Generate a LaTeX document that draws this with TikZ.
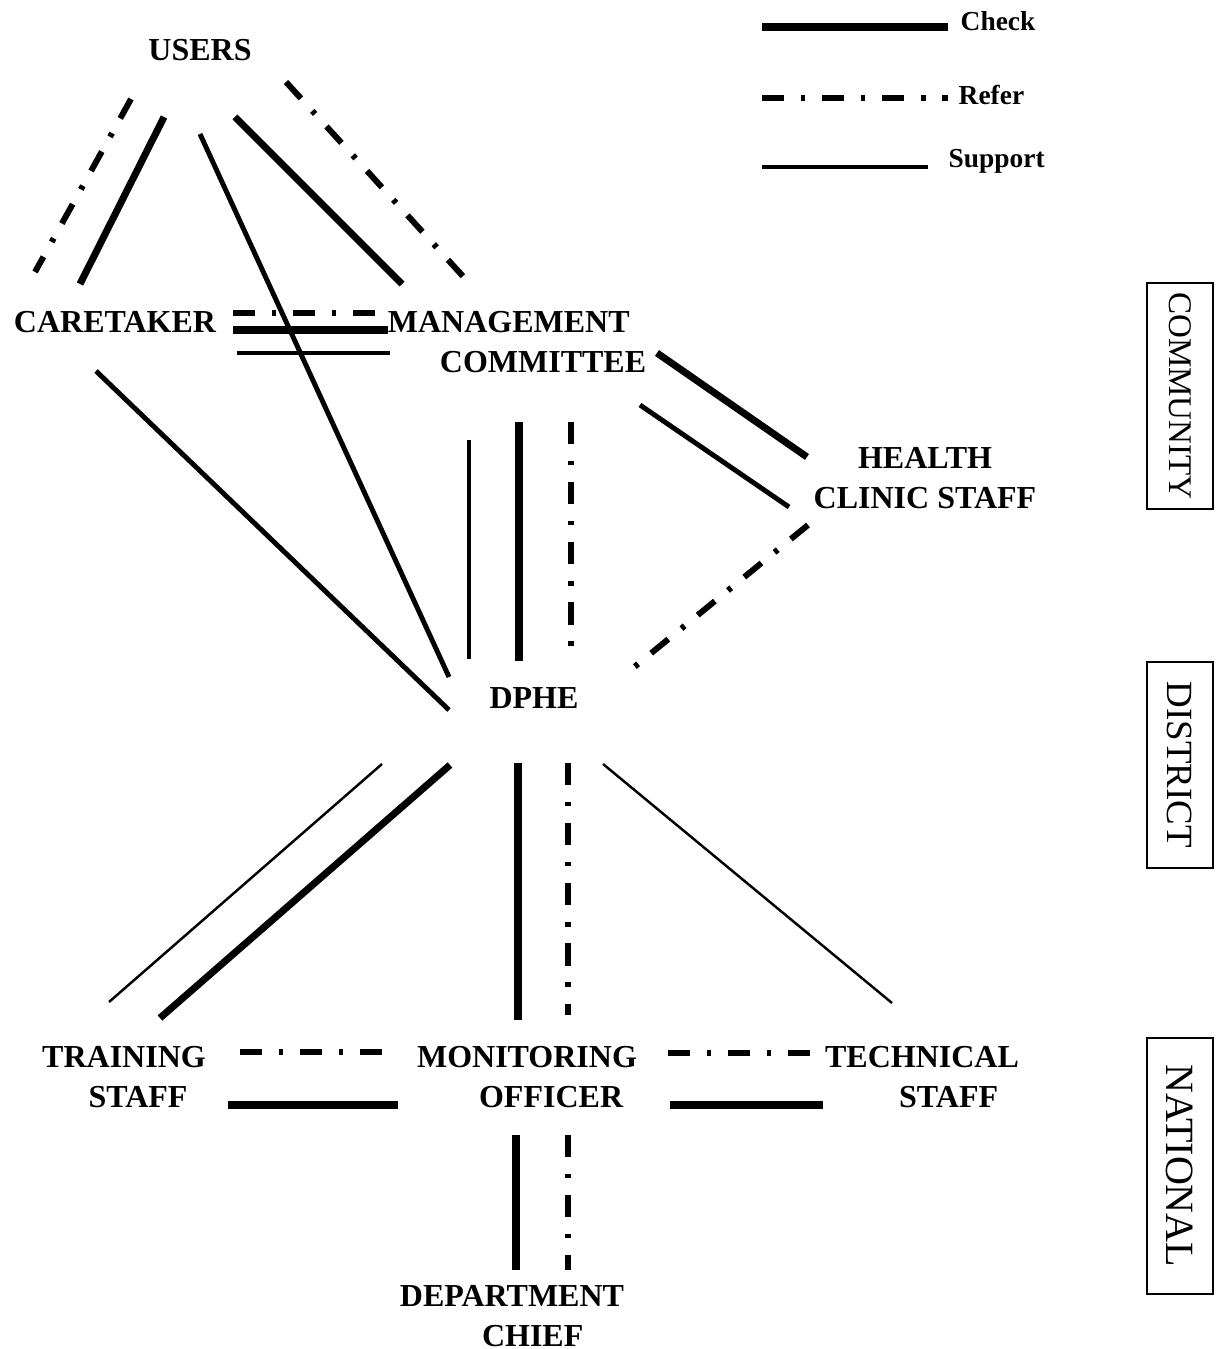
\documentclass[tikz,border=0pt]{standalone}
\usepackage{fontspec}
\setmainfont{Liberation Serif}
\usepackage{tikz}

\begin{document}
\begin{tikzpicture}%
                    [x=0.01cm, y=-0.01cm,
                    actor/.style={font=\bfseries\fontsize{9.1}{11.4}\selectfont, inner sep=0pt},
                    key/.style={font=\bfseries\fontsize{7.8}{9}\selectfont, inner sep=0pt, anchor=west},
                    level/.style={draw, line width=0.6pt, rotate=-90, inner sep=0pt,
                                  font=\fontsize{10.5}{12}\selectfont, minimum height=0.66cm},
                    check/.style={line width=2pt},
                    refer/.style={line width=1.7pt, dash pattern=on 6.3pt off 4.8pt on 1.2pt off 4.8pt},
                    support/.style={line width=1.4pt},
                    supportthin/.style={line width=0.7pt}]
                \useasboundingbox (0,0) rectangle (1217,1349);
                %% Actors
                \node[actor] (users) at (200,50) {USERS};
                \node[actor] (care) at (115,322) {CARETAKER};
                \node[actor, align=left] (mgmt) at (517,342) {MANAGEMENT\\\hspace*{0.52cm}COMMITTEE};
                \node[actor, align=center] (health) at (925,478) {HEALTH\\CLINIC STAFF};
                \node[actor] (dphe) at (534,698) {DPHE};
                \node[actor, align=center] (train) at (124,1077) {TRAINING\\\hspace*{0.28cm}STAFF};
                \node[actor, align=left] (monitor) at (527,1077) {MONITORING\\\hspace*{0.62cm}OFFICER};
                \node[actor, align=left] (tech) at (922,1077) {TECHNICAL\\\hspace*{0.74cm}STAFF};
                \node[actor, align=left] (chief) at (512,1316) {DEPARTMENT\\\hspace*{0.82cm}CHIEF};
                %%
                %% Levels
                \node[level, minimum width=2.26cm, font=\fontsize{9.4}{11}\selectfont] (community) at (1180,396) {COMMUNITY};
                \node[level, minimum width=2.06cm] (district) at (1180,765) {DISTRICT};
                \node[level, minimum width=2.56cm, font=\fontsize{11.4}{13}\selectfont] (national) at (1180,1166) {NATIONAL};
                %%
                %% Legend
                \coordinate (key-c1) at (762,27);  \coordinate (key-c2) at (948,27);
                \coordinate (key-r1) at (762,98);  \coordinate (key-r2) at (948,98);
                \coordinate (key-s1) at (762,167); \coordinate (key-s2) at (928,167);
                \node[key] (key-check) at (960,21) {Check};
                \node[key] (key-refer) at (958,95) {Refer};
                \node[key] (key-support) at (948,161) {Support};
                \draw[check] (key-c1) -- (key-c2);
                \draw[refer] (key-r1) -- (key-r2);
                \draw[support] (key-s1) -- (key-s2);
                %%
                %% End points of the links
                \coordinate (u-r1) at (131,99);   \coordinate (c-r1) at (35,272);
                \coordinate (u-c1) at (164,117);  \coordinate (c-c1) at (80,284);
                \coordinate (u-s1) at (200,134);  \coordinate (d-s1) at (449,677);
                \coordinate (u-c2) at (235,117);  \coordinate (m-c1) at (402,284);
                \coordinate (u-r2) at (286,82);   \coordinate (m-r1) at (470,284);
                \coordinate (c-r2) at (233,313);  \coordinate (m-r2) at (388,313);
                \coordinate (c-c2) at (233,330);  \coordinate (m-c2) at (388,330);
                \coordinate (c-s2) at (237,353);  \coordinate (m-s2) at (390,353);
                \coordinate (c-s3) at (96,371);   \coordinate (d-s3) at (449,710);
                \coordinate (m-s4) at (469,440);  \coordinate (d-s4) at (469,659);
                \coordinate (m-c4) at (519,422);  \coordinate (d-c4) at (519,661);
                \coordinate (m-r4) at (571,422);  \coordinate (d-r4) at (571,661);
                \coordinate (m-c5) at (657,353);  \coordinate (h-c5) at (807,457);
                \coordinate (m-s5) at (640,405);  \coordinate (h-s5) at (789,507);
                \coordinate (h-r6) at (808,525);  \coordinate (d-r6) at (622,677);
                \coordinate (d-s7) at (382,764);  \coordinate (t-s7) at (109,1002);
                \coordinate (d-c7) at (450,765);  \coordinate (t-c7) at (160,1018);
                \coordinate (d-c8) at (518,763);  \coordinate (o-c8) at (518,1020);
                \coordinate (d-r8) at (568,763);  \coordinate (o-r8) at (568,1015);
                \coordinate (d-s9) at (603,764);  \coordinate (e-s9) at (892,1003);
                \coordinate (t-r10) at (240,1052); \coordinate (o-r10) at (398,1052);
                \coordinate (t-c10) at (228,1105); \coordinate (o-c10) at (398,1105);
                \coordinate (o-r11) at (668,1053); \coordinate (e-r11) at (810,1053);
                \coordinate (o-c11) at (670,1105); \coordinate (e-c11) at (823,1105);
                \coordinate (o-c12) at (516,1135); \coordinate (k-c12) at (516,1270);
                \coordinate (o-r12) at (568,1135); \coordinate (k-r12) at (568,1270);
                %%
                %% Community links
                \draw[refer] (u-r1) -- (c-r1);
                \draw[check] (u-c1) -- (c-c1);
                \draw[support] (u-s1) -- (d-s1);
                \draw[check] (u-c2) -- (m-c1);
                \draw[refer] (u-r2) -- (m-r1);
                \draw[refer] (c-r2) -- (m-r2);
                \draw[check] (c-c2) -- (m-c2);
                \draw[support] (c-s2) -- (m-s2);
                \draw[check] (m-c5) -- (h-c5);
                \draw[support] (m-s5) -- (h-s5);
                %% Links to DPHE
                \draw[support] (c-s3) -- (d-s3);
                \draw[support] (m-s4) -- (d-s4);
                \draw[check] (m-c4) -- (d-c4);
                \draw[refer] (m-r4) -- (d-r4);
                \draw[refer] (h-r6) -- (d-r6);
                \draw[supportthin] (d-s7) -- (t-s7);
                \draw[check] (d-c7) -- (t-c7);
                \draw[check] (d-c8) -- (o-c8);
                \draw[refer] (d-r8) -- (o-r8);
                \draw[supportthin] (d-s9) -- (e-s9);
                %% National links
                \draw[refer] (t-r10) -- (o-r10);
                \draw[check] (t-c10) -- (o-c10);
                \draw[refer] (o-r11) -- (e-r11);
                \draw[check] (o-c11) -- (e-c11);
                \draw[check] (o-c12) -- (k-c12);
                \draw[refer] (o-r12) -- (k-r12);
\end{tikzpicture}
\end{document}
